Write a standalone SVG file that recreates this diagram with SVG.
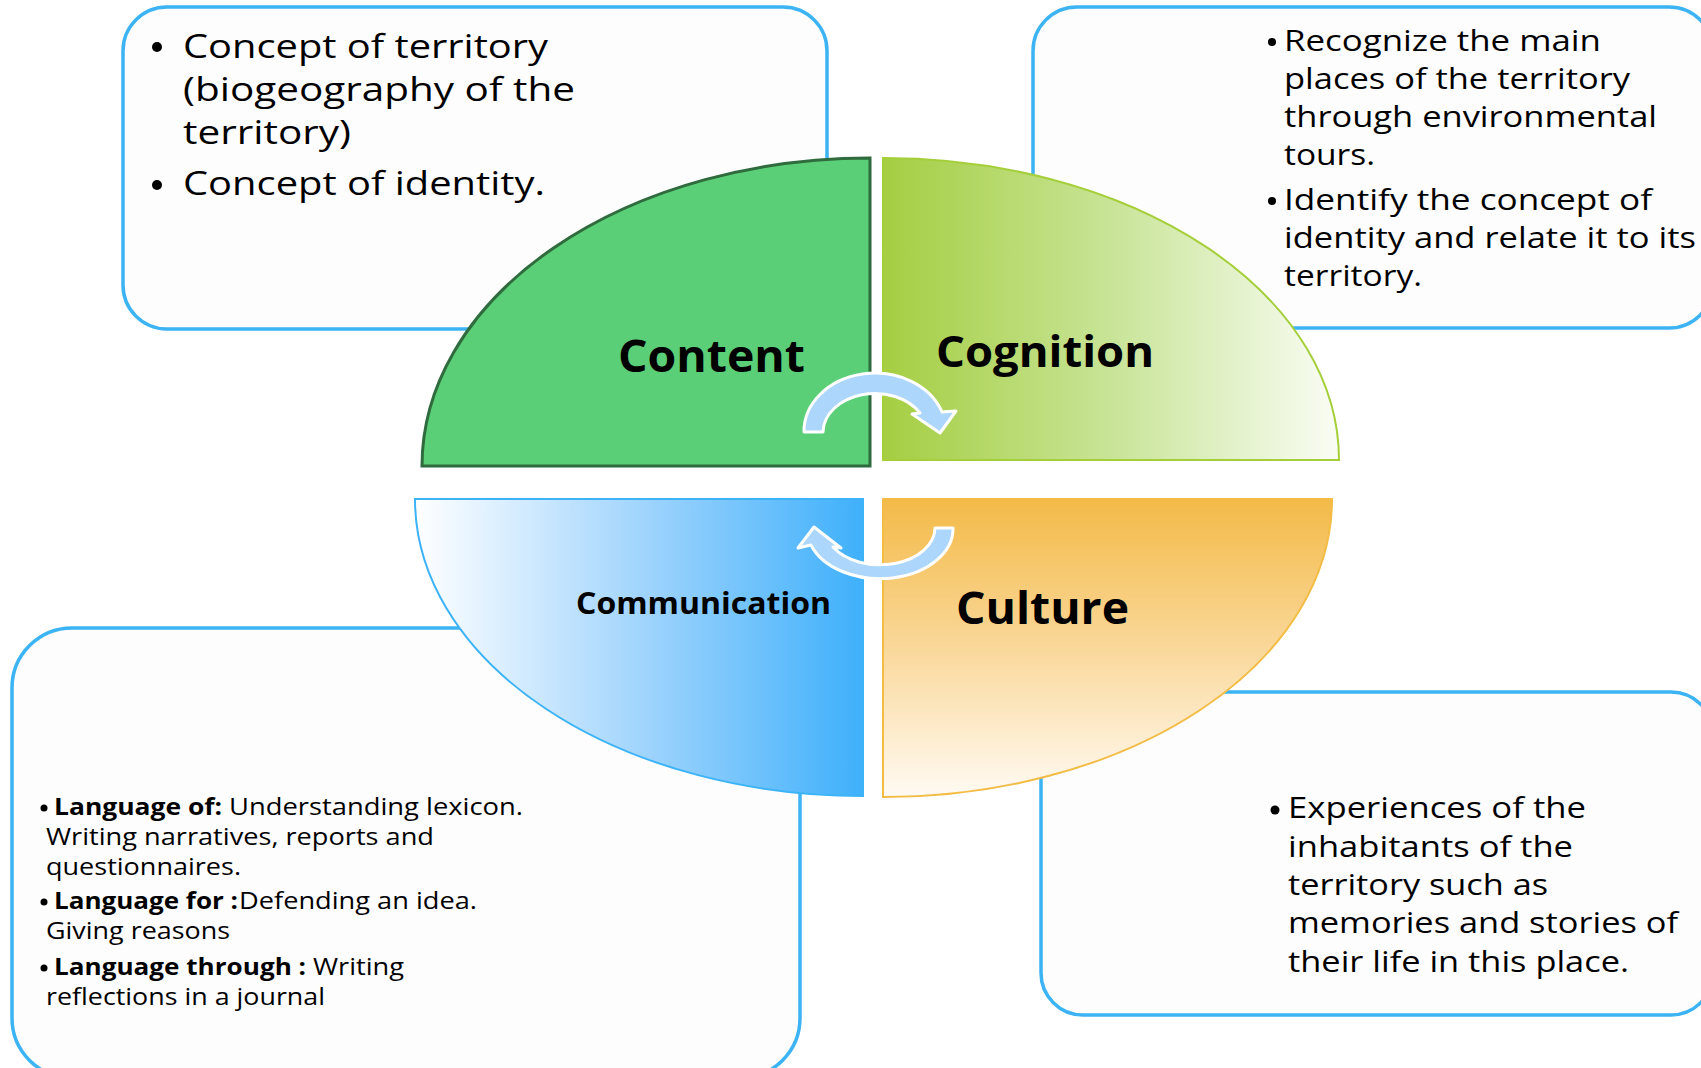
<svg xmlns="http://www.w3.org/2000/svg" width="1701" height="1068" viewBox="0 0 1701 1068">
  <defs>
    <linearGradient id="gCog" x1="0" y1="0" x2="1" y2="0">
      <stop offset="0" stop-color="#a5ce42"/>
      <stop offset="0.5" stop-color="#c8e497"/>
      <stop offset="1" stop-color="#fafdf5"/>
    </linearGradient>
    <linearGradient id="gCom" x1="0" y1="0" x2="1" y2="0">
      <stop offset="0" stop-color="#ffffff"/>
      <stop offset="0.5" stop-color="#a2d5fd"/>
      <stop offset="1" stop-color="#3fb0fb"/>
    </linearGradient>
    <linearGradient id="gCul" x1="0" y1="0" x2="0" y2="1">
      <stop offset="0" stop-color="#f3ba48"/>
      <stop offset="0.5" stop-color="#fad89a"/>
      <stop offset="1" stop-color="#fffaf3"/>
    </linearGradient>
    <style>
      .box { fill: #fdfdfd; stroke: #3cb3f3; stroke-width: 3.5; }
      .t { font-family: "Open Sans", "Noto Sans", "Liberation Sans", sans-serif; fill: #000; }
      .lbl { font-family: "Open Sans", "Noto Sans", "Liberation Sans", sans-serif; font-weight: 700; fill: #000; }
      .b { font-weight: 700; }
      .arrow { fill: #acd6fc; stroke: #ffffff; stroke-width: 3; stroke-linejoin: round; }
      .dot { fill: #000; }
    </style>
  </defs>
  <rect width="1701" height="1068" fill="#ffffff"/>

  <g id="box-content-text">
    <rect class="box" x="123" y="7" width="704" height="322" rx="44"/>
    <circle class="dot" cx="157" cy="47" r="5"/>
    <text class="t" font-size="33" x="183" y="58" textLength="365" lengthAdjust="spacingAndGlyphs">Concept of territory</text>
    <text class="t" font-size="33" x="183" y="101" textLength="392" lengthAdjust="spacingAndGlyphs">(biogeography of the</text>
    <text class="t" font-size="33" x="183" y="144" textLength="168" lengthAdjust="spacingAndGlyphs">territory)</text>
    <circle class="dot" cx="157" cy="185" r="5"/>
    <text class="t" font-size="33" x="183" y="195" textLength="362" lengthAdjust="spacingAndGlyphs">Concept of identity.</text>
  </g>

  <g id="box-cognition-text">
    <rect class="box" x="1033" y="7" width="680" height="321" rx="44"/>
    <circle class="dot" cx="1272" cy="42" r="4"/>
    <text class="t" font-size="29" x="1284" y="51" textLength="317" lengthAdjust="spacingAndGlyphs">Recognize the main</text>
    <text class="t" font-size="29" x="1284" y="89" textLength="346" lengthAdjust="spacingAndGlyphs">places of the territory</text>
    <text class="t" font-size="29" x="1284" y="127" textLength="373" lengthAdjust="spacingAndGlyphs">through environmental</text>
    <text class="t" font-size="29" x="1284" y="165" textLength="91" lengthAdjust="spacingAndGlyphs">tours.</text>
    <circle class="dot" cx="1272" cy="201" r="4"/>
    <text class="t" font-size="29" x="1284" y="210" textLength="368" lengthAdjust="spacingAndGlyphs">Identify the concept of</text>
    <text class="t" font-size="29" x="1284" y="248" textLength="412" lengthAdjust="spacingAndGlyphs">identity and relate it to its</text>
    <text class="t" font-size="29" x="1284" y="286" textLength="138" lengthAdjust="spacingAndGlyphs">territory.</text>
  </g>

  <g id="box-communication-text">
    <rect class="box" x="12" y="628" width="788" height="450" rx="60"/>
    <circle class="dot" cx="44" cy="808" r="3.5"/>
    <text class="t b" font-size="24" x="54" y="815" textLength="168" lengthAdjust="spacingAndGlyphs">Language of:</text>
    <text class="t" font-size="24" x="229" y="815" textLength="294" lengthAdjust="spacingAndGlyphs">Understanding lexicon.</text>
    <text class="t" font-size="24" x="46" y="845" textLength="388" lengthAdjust="spacingAndGlyphs">Writing narratives, reports and</text>
    <text class="t" font-size="24" x="46" y="875" textLength="195" lengthAdjust="spacingAndGlyphs">questionnaires.</text>
    <circle class="dot" cx="44" cy="902" r="3.5"/>
    <text class="t b" font-size="24" x="54" y="909" textLength="184" lengthAdjust="spacingAndGlyphs">Language for :</text>
    <text class="t" font-size="24" x="239" y="909" textLength="238" lengthAdjust="spacingAndGlyphs">Defending an idea.</text>
    <text class="t" font-size="24" x="46" y="939" textLength="184" lengthAdjust="spacingAndGlyphs">Giving reasons</text>
    <circle class="dot" cx="44" cy="968" r="3.5"/>
    <text class="t b" font-size="24" x="54" y="975" textLength="252" lengthAdjust="spacingAndGlyphs">Language through :</text>
    <text class="t" font-size="24" x="313" y="975" textLength="91" lengthAdjust="spacingAndGlyphs">Writing</text>
    <text class="t" font-size="24" x="46" y="1005" textLength="279" lengthAdjust="spacingAndGlyphs">reflections in a journal</text>
  </g>

  <g id="box-culture-text">
    <rect class="box" x="1041" y="692" width="672" height="323" rx="42"/>
    <circle class="dot" cx="1275" cy="810" r="4.5"/>
    <text class="t" font-size="29" x="1288" y="818" textLength="298" lengthAdjust="spacingAndGlyphs">Experiences of the</text>
    <text class="t" font-size="29" x="1288" y="857" textLength="285" lengthAdjust="spacingAndGlyphs">inhabitants of the</text>
    <text class="t" font-size="29" x="1288" y="895" textLength="260" lengthAdjust="spacingAndGlyphs">territory such as</text>
    <text class="t" font-size="29" x="1288" y="933" textLength="390" lengthAdjust="spacingAndGlyphs">memories and stories of</text>
    <text class="t" font-size="29" x="1288" y="972" textLength="341" lengthAdjust="spacingAndGlyphs">their life in this place.</text>
  </g>

  <g id="quadrant-content">
    <path d="M870,466 L422,466 A448,308 0 0,1 870,158 Z" fill="#5bcf78" stroke="#2f6b3d" stroke-width="3"/>
    <text class="lbl" font-size="44" x="618" y="372" textLength="187" lengthAdjust="spacingAndGlyphs">Content</text>
  </g>
  <g id="quadrant-cognition">
    <path d="M883,460 L883,158 A456,302 0 0,1 1339,460 Z" fill="url(#gCog)" stroke="#a5cf3a" stroke-width="2"/>
    <text class="lbl" font-size="43" x="936" y="367" textLength="218" lengthAdjust="spacingAndGlyphs">Cognition</text>
  </g>
  <g id="quadrant-communication">
    <path d="M863,499 L415,499 A448,297 0 0,0 863,796 Z" fill="url(#gCom)" stroke="#3db3f7" stroke-width="2"/>
    <text class="lbl" font-size="31" x="576" y="614" textLength="255" lengthAdjust="spacingAndGlyphs">Communication</text>
  </g>
  <g id="quadrant-culture">
    <path d="M883,499 L1332,499 A449,298 0 0,1 883,797 Z" fill="url(#gCul)" stroke="#f2bc45" stroke-width="2"/>
    <text class="lbl" font-size="44" x="956" y="624" textLength="173" lengthAdjust="spacingAndGlyphs">Culture</text>
  </g>

  <g id="connectors">
    <path class="arrow" d="M804,432 A71,58 0 0,1 942,412 L956,411 L940,433 L912,414 L920,413 A52,39 0 0,0 823,432 Z"/>
    <path class="arrow" d="M953,528 A73,50 0 0,1 811,545 L798,548 L814,527 L841,548 L833,547 A55,37 0 0,0 935,528 Z"/>
  </g>
</svg>
